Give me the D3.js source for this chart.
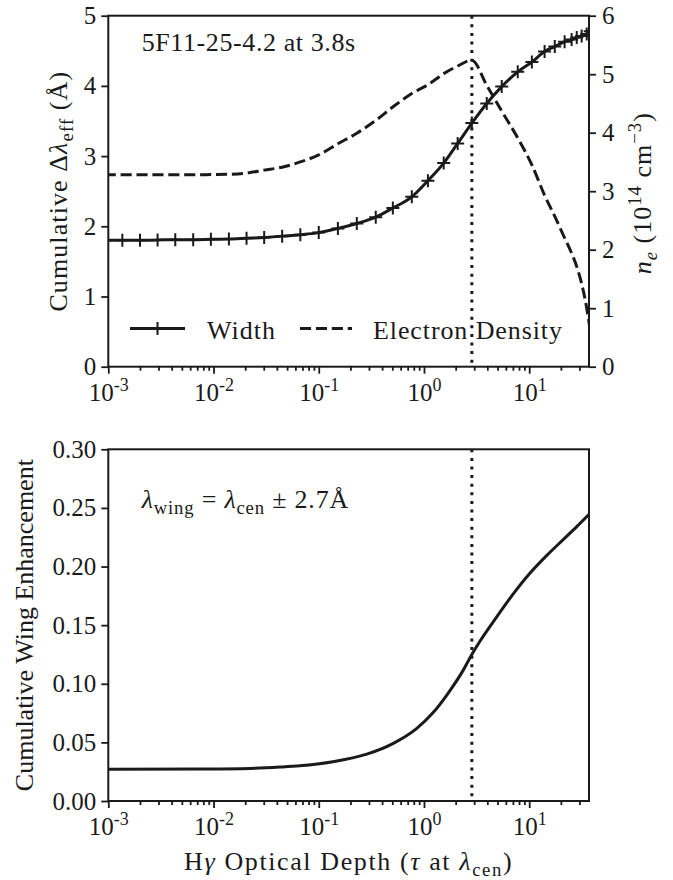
<!DOCTYPE html>
<html>
<head>
<meta charset="utf-8">
<script src="https://cdn.jsdelivr.net/npm/d3@7"></script>
<style>
  body { margin: 0; background: #fff; }
  svg text { font-family: "Liberation Serif", "Times New Roman", serif; fill: #1a1a1a; }
</style>
</head>
<body>
<div id="wrapper"></div>
<script>
// 1. Data
const tau = [9.24e-4, 1.36e-3, 2.0e-3, 2.94e-3, 4.33e-3, 6.41e-3, 9.44e-3, 1.4e-2,
  2.06e-2, 3.03e-2, 4.49e-2, 6.68e-2, 0.1, 0.152, 0.23, 0.348, 0.506, 0.766, 1.09,
  1.54, 2.09, 2.85, 3.95, 5.48, 7.78, 10.6, 14.0, 17.5, 21.7, 25.3, 28.3, 31.5, 35.2, 38.0]
const widthVals = [1.8, 1.8, 1.8, 1.805, 1.81, 1.81, 1.815, 1.82, 1.83, 1.84, 1.86,
  1.88, 1.91, 1.97, 2.04, 2.13, 2.26, 2.42, 2.65, 2.9, 3.18, 3.47, 3.75, 3.99, 4.2,
  4.34, 4.49, 4.56, 4.63, 4.66, 4.69, 4.71, 4.74, 4.78]
const densityVals = [3.28, 3.28, 3.28, 3.28, 3.28, 3.28, 3.285, 3.29, 3.31, 3.36,
  3.41, 3.5, 3.62, 3.81, 3.99, 4.21, 4.44, 4.67, 4.82, 5.01, 5.14, 5.24, 4.81, 4.37,
  3.91, 3.45, 2.93, 2.57, 2.2, 1.94, 1.71, 1.42, 1.0, 0.62]

const tauWing = [9.24e-4, 7.43e-3, 2.22e-2, 4.28e-2, 6.62e-2, 0.136, 0.286, 0.506,
  0.855, 1.21, 1.76, 2.34, 2.85, 3.39, 4.91, 6.97, 10.1, 14.7, 20.8, 28.3, 38.0]
const wingVals = [0.027, 0.0273, 0.0278, 0.0289, 0.03, 0.0335, 0.04, 0.049,
  0.062, 0.075, 0.094, 0.111, 0.125, 0.136, 0.157, 0.176, 0.194, 0.2095, 0.2225,
  0.234, 0.2455]

const tauMark = 2.85
const tauDomain = [1e-3, 37]
const decadeTicks = [1e-3, 1e-2, 1e-1, 1, 10]
const decadeExps = ["-3", "-2", "-1", "0", "1"]
const widthTicks = [0, 1, 2, 3, 4, 5]
const densityTicks = [0, 1, 2, 3, 4, 5, 6]
const wingTicks = [0, 0.05, 0.1, 0.15, 0.2, 0.25, 0.3]

// 2. Dimensions
const dimensions = {
  width: 673,
  height: 880,
  left: 108.3,
  right: 589,
  top1: 15.7,
  bottom1: 366.7,
  top2: 449.3,
  bottom2: 801,
}
const ink = "#1a1a1a"
const tickFont = 25
const labelFont = 26

// 3. Canvas
const wrapper = d3.select("#wrapper").append("svg")
  .attr("width", dimensions.width)
  .attr("height", dimensions.height)

const defs = wrapper.append("defs")
defs.append("clipPath").attr("id", "clip1").append("rect")
  .attr("x", dimensions.left).attr("y", dimensions.top1)
  .attr("width", dimensions.right - dimensions.left)
  .attr("height", dimensions.bottom1 - dimensions.top1)
defs.append("clipPath").attr("id", "clip2").append("rect")
  .attr("x", dimensions.left).attr("y", dimensions.top2)
  .attr("width", dimensions.right - dimensions.left)
  .attr("height", dimensions.bottom2 - dimensions.top2)

// 4. Scales
const xScale = d3.scaleLog().domain(tauDomain).range([dimensions.left, dimensions.right])
const yWidth = d3.scaleLinear().domain([0, 5]).range([dimensions.bottom1, dimensions.top1])
const yDensity = d3.scaleLinear().domain([0, 6]).range([dimensions.bottom1, dimensions.top1])
const yWing = d3.scaleLinear().domain([0, 0.3]).range([dimensions.bottom2, dimensions.top2])

const minorTicks = []
decadeTicks.forEach(d => {
  for (let k = 2; k <= 9; k++) if (k * d <= tauDomain[1]) minorTicks.push(k * d)
})

// helper: text made of plain / italic / sub / sup pieces
function rich(sel, parts, size, spacing = 0) {
  let shift = 0
  if (spacing) sel.style("letter-spacing", `${spacing}px`)
  parts.forEach(p => {
    const s = sel.append("tspan").text(p.t)
    if (p.it) s.style("font-style", "italic")
    let target = 0
    if (p.sub) target = size * 0.24
    if (p.sup) target = -size * 0.4
    if (p.sub || p.sup) s.attr("font-size", size * 0.72)
    if (target !== shift) s.attr("dy", target - shift)
    shift = target
  })
  return sel
}

function styleAxis(g) {
  g.select(".domain").remove()
  g.selectAll(".tick line").attr("stroke", ink).attr("stroke-width", 1.8)
  g.selectAll(".tick text").attr("font-size", tickFont).attr("fill", ink)
    .style("font-family", '"Liberation Serif", serif')
}

function drawXAxis(yPos) {
  const major = wrapper.append("g")
    .attr("transform", `translate(0,${yPos})`)
    .call(d3.axisBottom(xScale).tickValues(decadeTicks).tickSize(7).tickFormat(() => ""))
    .call(styleAxis)
  major.selectAll(".tick").each(function (d, i) {
    const t = d3.select(this).append("text")
      .attr("y", 34).attr("text-anchor", "middle")
      .attr("font-size", tickFont).attr("fill", ink)
    rich(t, [{ t: "10" }, { t: decadeExps[i], sup: true }], tickFont)
  })
  wrapper.append("g")
    .attr("transform", `translate(0,${yPos})`)
    .call(d3.axisBottom(xScale).tickValues(minorTicks).tickSize(4).tickFormat(() => ""))
    .call(styleAxis)
}

function frame(y0, y1) {
  wrapper.append("rect")
    .attr("x", dimensions.left).attr("y", y0)
    .attr("width", dimensions.right - dimensions.left)
    .attr("height", y1 - y0)
    .attr("fill", "none").attr("stroke", ink).attr("stroke-width", 2)
}

function markLine(y0, y1) {
  wrapper.append("line")
    .attr("x1", xScale(tauMark)).attr("x2", xScale(tauMark))
    .attr("y1", y0).attr("y2", y1)
    .attr("stroke", ink).attr("stroke-width", 3)
    .attr("stroke-dasharray", "3,5.6")
}

// 5. Top panel: width and electron density
const widthLine = d3.line()
  .x((d, i) => xScale(tau[i]))
  .y(d => yWidth(d))
  .curve(d3.curveMonotoneX)
const densityLine = d3.line()
  .x((d, i) => xScale(tau[i]))
  .y(d => yDensity(d))
  .curve(d3.curveMonotoneX)

markLine(dimensions.top1, dimensions.bottom1)
const topPanel = wrapper.append("g").attr("clip-path", "url(#clip1)")
topPanel.append("path").datum(densityVals)
  .attr("d", densityLine)
  .attr("fill", "none").attr("stroke", ink).attr("stroke-width", 3)
  .attr("stroke-dasharray", "11.1,4.8")
topPanel.append("path").datum(widthVals)
  .attr("d", widthLine)
  .attr("fill", "none").attr("stroke", ink).attr("stroke-width", 3)
const plus = "M-6.5,0H6.5M0,-6.5V6.5"
topPanel.selectAll(".marker").data(widthVals).enter().append("path")
  .attr("class", "marker")
  .attr("d", plus)
  .attr("transform", (d, i) => `translate(${xScale(tau[i])},${yWidth(d)})`)
  .attr("stroke", ink).attr("stroke-width", 2)

frame(dimensions.top1, dimensions.bottom1)

wrapper.append("g")
  .attr("transform", `translate(${dimensions.left},0)`)
  .call(d3.axisLeft(yWidth).tickValues(widthTicks).tickSize(7).tickPadding(5).tickFormat(d3.format("d")))
  .call(styleAxis)
wrapper.append("g")
  .attr("transform", `translate(${dimensions.right},0)`)
  .call(d3.axisRight(yDensity).tickValues(densityTicks).tickSize(7).tickPadding(6).tickFormat(d3.format("d")))
  .call(styleAxis)
drawXAxis(dimensions.bottom1)

// annotation + legend
rich(wrapper.append("text").attr("x", 141.7).attr("y", 51).attr("font-size", labelFont),
  [{ t: "5F11-25-4.2 at 3.8s" }], labelFont, 0.6)

const legendY = 328.5
wrapper.append("line").attr("x1", 130).attr("x2", 185).attr("y1", legendY).attr("y2", legendY)
  .attr("stroke", ink).attr("stroke-width", 3)
wrapper.append("path").attr("d", plus).attr("transform", `translate(157.5,${legendY})`)
  .attr("stroke", ink).attr("stroke-width", 2)
rich(wrapper.append("text").attr("x", 207).attr("y", 338.5).attr("font-size", labelFont),
  [{ t: "Width" }], labelFont, 1)
wrapper.append("line").attr("x1", 300).attr("x2", 352).attr("y1", legendY).attr("y2", legendY)
  .attr("stroke", ink).attr("stroke-width", 3).attr("stroke-dasharray", "11.1,4.8")
rich(wrapper.append("text").attr("x", 373).attr("y", 338.5).attr("font-size", labelFont),
  [{ t: "Electron Density" }], labelFont, 0.9)

// axis titles
rich(wrapper.append("text")
  .attr("transform", `translate(67,${(dimensions.top1 + dimensions.bottom1) / 2}) rotate(-90)`)
  .attr("text-anchor", "middle").attr("font-size", labelFont),
  [{ t: "Cumulative Δ" }, { t: "λ", it: true }, { t: "eff", sub: true }, { t: " (Å)" }], labelFont, 1.1)
rich(wrapper.append("text")
  .attr("transform", `translate(651,${(dimensions.top1 + dimensions.bottom1) / 2 + 2}) rotate(-90)`)
  .attr("text-anchor", "middle").attr("font-size", labelFont),
  [{ t: "n", it: true }, { t: "e", it: true, sub: true }, { t: " (10" }, { t: "14", sup: true },
   { t: " cm" }, { t: "−3", sup: true }, { t: ")" }], labelFont, 1)

// 6. Bottom panel: wing enhancement
const wingLine = d3.line()
  .x((d, i) => xScale(tauWing[i]))
  .y(d => yWing(d))
  .curve(d3.curveMonotoneX)
markLine(dimensions.top2, dimensions.bottom2)
const bottomPanel = wrapper.append("g").attr("clip-path", "url(#clip2)")
bottomPanel.append("path").datum(wingVals)
  .attr("d", wingLine)
  .attr("fill", "none").attr("stroke", ink).attr("stroke-width", 3)

frame(dimensions.top2, dimensions.bottom2)
wrapper.append("g")
  .attr("transform", `translate(${dimensions.left},0)`)
  .call(d3.axisLeft(yWing).tickValues(wingTicks).tickSize(7).tickPadding(5).tickFormat(d3.format(".2f")))
  .call(styleAxis)
drawXAxis(dimensions.bottom2)

rich(wrapper.append("text").attr("x", 141.7).attr("y", 508).attr("font-size", labelFont),
  [{ t: "λ", it: true }, { t: "wing", sub: true }, { t: " = " }, { t: "λ", it: true },
   { t: "cen", sub: true }, { t: " ± 2.7Å" }], labelFont, 0.8)

rich(wrapper.append("text")
  .attr("transform", `translate(33,${(dimensions.top2 + dimensions.bottom2) / 2}) rotate(-90)`)
  .attr("text-anchor", "middle").attr("font-size", labelFont),
  [{ t: "Cumulative Wing Enhancement" }], labelFont)
rich(wrapper.append("text")
  .attr("x", (dimensions.left + dimensions.right) / 2).attr("y", 870)
  .attr("text-anchor", "middle").attr("font-size", labelFont),
  [{ t: "H" }, { t: "γ", it: true }, { t: " Optical Depth (" }, { t: "τ", it: true },
   { t: " at " }, { t: "λ", it: true }, { t: "cen", sub: true }, { t: ")" }], labelFont, 1.6)
</script>
</body>
</html>
